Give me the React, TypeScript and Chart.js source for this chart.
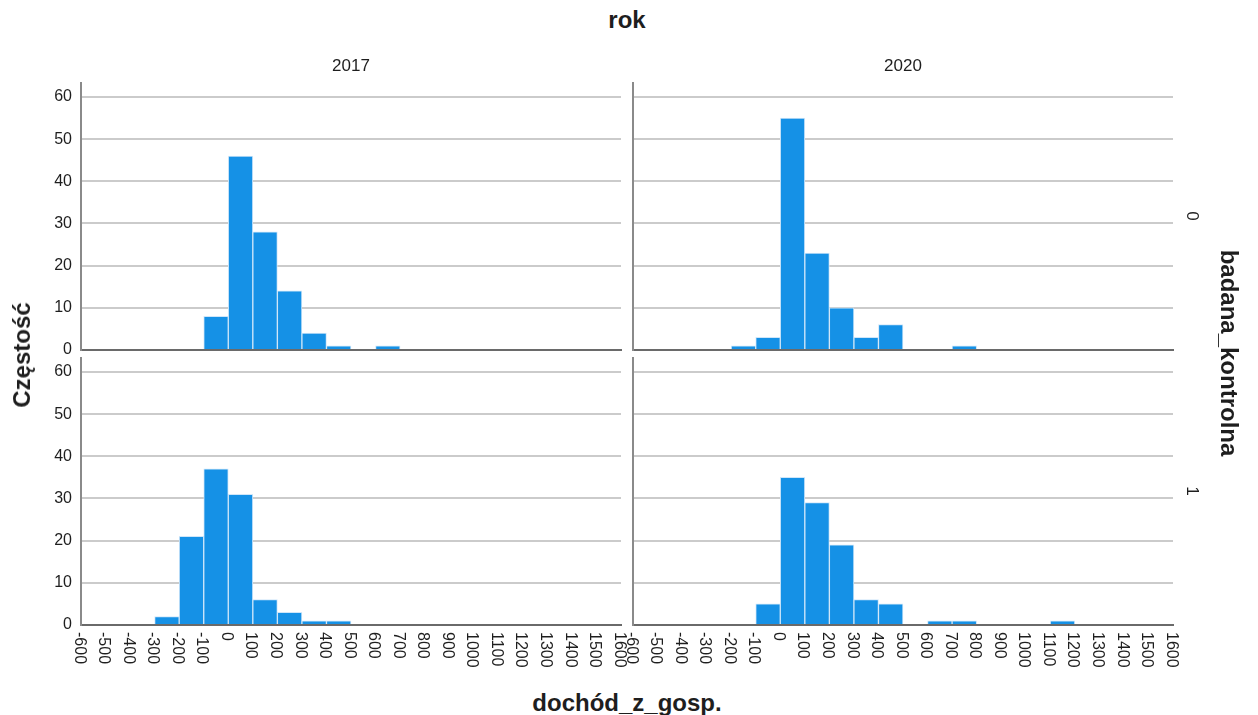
import React, { useEffect, useRef } from "react";
import { Chart, registerables } from "chart.js";

Chart.register(...registerables);

// Histogram bins (lower edges), width 100
const binStarts = [-600, -500, -400, -300, -200, -100, 0, 100, 200, 300, 400, 500, 600, 700, 800, 900, 1000, 1100, 1200, 1300, 1400, 1500];
const binWidth = 100;
const xTickValues = [-600, -500, -400, -300, -200, -100, 0, 100, 200, 300, 400, 500, 600, 700, 800, 900, 1000, 1100, 1200, 1300, 1400, 1500, 1600];
const yTickValues = [0, 10, 20, 30, 40, 50, 60];

// Frequencies: badana_kontrolna x rok
const counts0_2017 = [0, 0, 0, 0, 0, 8, 46, 28, 14, 4, 1, 0, 1, 0, 0, 0, 0, 0, 0, 0, 0, 0];
const counts0_2020 = [0, 0, 0, 0, 1, 3, 55, 23, 10, 3, 6, 0, 0, 1, 0, 0, 0, 0, 0, 0, 0, 0];
const counts1_2017 = [0, 0, 0, 2, 21, 37, 31, 6, 3, 1, 1, 0, 0, 0, 0, 0, 0, 0, 0, 0, 0, 0];
const counts1_2020 = [0, 0, 0, 0, 0, 5, 35, 29, 19, 6, 5, 0, 1, 1, 0, 0, 0, 1, 0, 0, 0, 0];

const colLabels = ["2017", "2020"];
const rowLabels = ["0", "1"];
const topTitle = "rok";
const rightTitle = "badana_kontrolna";
const leftTitle = "Częstość";
const bottomTitle = "dochód_z_gosp.";

const FONT = '"Liberation Sans", Arial, Helvetica, sans-serif';
const BAR_COLOR = "#1591e6";
const BAR_BORDER = "#cfe6f9";
const GRID_COLOR = "#cbcbcb";
const YAXIS_COLOR = "#8a8a8a";
const XAXIS_COLOR = "#6a6a6a";
const TEXT_COLOR = "#1e1e1e";

const AREA_W = 540;
const AREA_H = 266.5;
const PAD_LEFT = 60; // y-scale width
const PAD_TOP = 24;
const PAD_RIGHT = 10;
const PAD_BOTTOM = 50;

type PanelProps = {
  counts: number[];
  left: number; // chart area left (page px)
  top: number; // chart area top (page px)
  showY: boolean;
  showX: boolean;
};

function Panel({ counts, left, top, showY, showX }: PanelProps) {
  const ref = useRef<HTMLCanvasElement | null>(null);
  useEffect(() => {
    if (!ref.current) return;
    const xLabelPlugin = {
      id: "xLabels",
      afterDraw(chart: any) {
        if (!showX) return;
        const ctx = chart.ctx;
        const xs = chart.scales.x;
        const y0 = chart.chartArea.bottom + 7;
        ctx.save();
        ctx.font = `16px ${FONT}`;
        ctx.fillStyle = TEXT_COLOR;
        for (const v of xTickValues) {
          const px = xs.getPixelForValue(v) - 2;
          ctx.save();
          ctx.translate(px, y0);
          ctx.rotate(Math.PI / 2);
          ctx.textAlign = "left";
          ctx.textBaseline = "middle";
          ctx.fillText(String(v), 0, 0);
          ctx.restore();
        }
        ctx.restore();
      },
    };
    const chart = new Chart(ref.current, {
      type: "bar",
      data: {
        datasets: [
          {
            data: binStarts.map((s, i) => ({ x: s + binWidth / 2, y: counts[i] })),
            backgroundColor: BAR_COLOR,
            borderColor: BAR_BORDER,
            borderWidth: 1,
            borderSkipped: "start",
            barPercentage: 1,
            categoryPercentage: 1,
          } as any,
        ],
      },
      options: {
        responsive: false,
        maintainAspectRatio: false,
        animation: false,
        devicePixelRatio: 1,
        layout: { padding: { left: 0, top: PAD_TOP, right: PAD_RIGHT, bottom: PAD_BOTTOM } },
        plugins: { legend: { display: false }, tooltip: { enabled: false }, title: { display: false } },
        scales: {
          x: {
            type: "linear",
            min: xTickValues[0],
            max: xTickValues[xTickValues.length - 1],
            offset: false,
            ticks: { display: false },
            grid: { display: false, drawTicks: false },
            border: { display: true, color: XAXIS_COLOR, width: 2 },
          },
          y: {
            type: "linear",
            min: 0,
            max: 63.3,
            afterBuildTicks: (scale: any) => {
              scale.ticks = yTickValues.map((v) => ({ value: v }));
            },
            afterFit: (scale: any) => {
              scale.width = PAD_LEFT;
            },
            ticks: {
              display: showY,
              padding: 9,
              color: TEXT_COLOR,
              font: { family: FONT, size: 16 },
            },
            grid: { color: GRID_COLOR, lineWidth: 2, drawTicks: false },
            border: { display: true, color: YAXIS_COLOR, width: 2 },
          },
        },
      } as any,
      plugins: [xLabelPlugin],
    });
    return () => chart.destroy();
  }, [counts, showX, showY]);
  const w = PAD_LEFT + AREA_W + PAD_RIGHT;
  const h = PAD_TOP + AREA_H + PAD_BOTTOM;
  return (
    <canvas
      ref={ref}
      width={w}
      height={Math.round(h)}
      style={{ position: "absolute", left: left - PAD_LEFT, top: top - PAD_TOP, width: w, height: Math.round(h), display: "block" }}
    />
  );
}

function Label({ text, cx, cy, size, bold, rotate }: { text: string; cx: number; cy: number; size: number; bold?: boolean; rotate?: number }) {
  return (
    <div
      style={{
        position: "absolute",
        left: cx,
        top: cy,
        transform: `translate(-50%, -50%) rotate(${rotate || 0}deg)`,
        whiteSpace: "nowrap",
        fontFamily: FONT,
        fontSize: size,
        fontWeight: bold ? 700 : 400,
        color: TEXT_COLOR,
        lineHeight: 1,
      }}
    >
      {text}
    </div>
  );
}

export default function App() {
  const colLeft = [81, 633];
  const rowTop = [83, 358];
  const panels = [
    { counts: counts0_2017, c: 0, r: 0 },
    { counts: counts0_2020, c: 1, r: 0 },
    { counts: counts1_2017, c: 0, r: 1 },
    { counts: counts1_2020, c: 1, r: 1 },
  ];
  return (
    <div style={{ position: "absolute", left: 0, top: 0, width: 1258, height: 715, background: "#fff", overflow: "hidden" }}>
      {panels.map((p, i) => (
        <Panel key={i} counts={p.counts} left={colLeft[p.c]} top={rowTop[p.r]} showY={p.c === 0} showX={p.r === 1} />
      ))}
      <Label text={topTitle} cx={627} cy={20} size={24} bold />
      <Label text={colLabels[0]} cx={colLeft[0] + AREA_W / 2} cy={65} size={17} />
      <Label text={colLabels[1]} cx={colLeft[1] + AREA_W / 2} cy={65} size={17} />
      <Label text={rowLabels[0]} cx={1192} cy={rowTop[0] + AREA_H / 2} size={17} rotate={90} />
      <Label text={rowLabels[1]} cx={1192} cy={rowTop[1] + AREA_H / 2} size={17} rotate={90} />
      <Label text={rightTitle} cx={1229} cy={353} size={24} bold rotate={90} />
      <Label text={leftTitle} cx={22} cy={355} size={24} bold rotate={-90} />
      <Label text={bottomTitle} cx={627} cy={703} size={24} bold />
    </div>
  );
}
